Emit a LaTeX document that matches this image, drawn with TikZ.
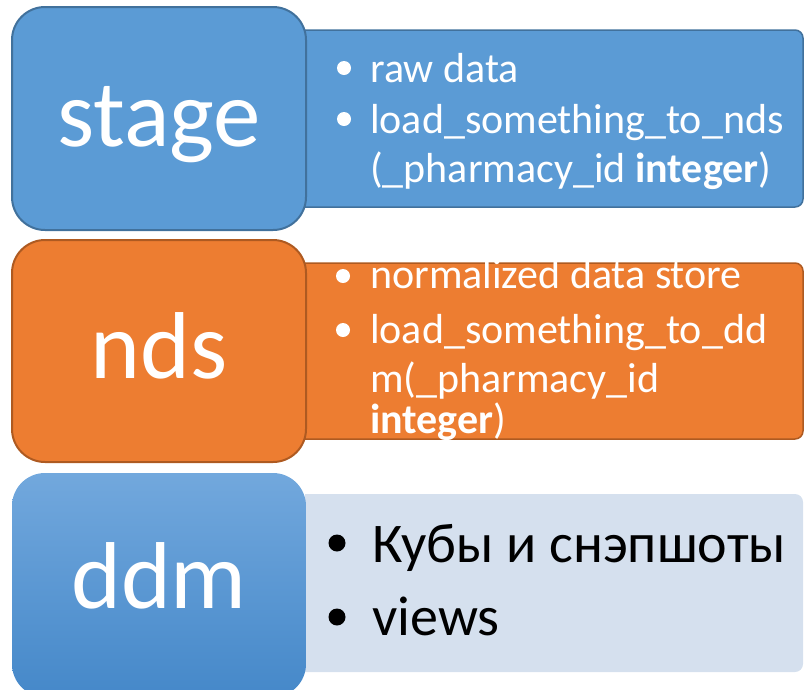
\documentclass[tikz,border=0pt]{standalone}
\usepackage{fontspec}
\setmainfont{Carlito}
\definecolor{stagefill}{HTML}{5B9BD5}
\definecolor{stageline}{HTML}{41719C}
\definecolor{ndsfill}{HTML}{ED7D31}
\definecolor{ndsline}{HTML}{AE5A21}
\definecolor{ddmtop}{HTML}{72A8DD}
\definecolor{ddmbot}{HTML}{4588C9}
\definecolor{lightpanel}{HTML}{D5E0EE}
\tikzset{
  bigbox/.style={rounded corners=33pt, line width=2pt},
  bigtext/.style={anchor=base, inner sep=0pt, text=white, font=\fontsize{95}{110}\selectfont},
  smalltext/.style={anchor=base west, inner sep=0pt, text=white, font=\fontsize{42}{50}\selectfont},
  ddmtext/.style={anchor=base west, inner sep=0pt, text=black, font=\fontsize{56}{66}\selectfont},
  wdot/.style={circle, fill=white, inner sep=0pt, minimum size=14pt},
  kdot/.style={circle, fill=black, inner sep=0pt, minimum size=17pt},
}
\begin{document}
\begin{tikzpicture}[x=1pt,y=-1pt]
\useasboundingbox (0,0) rectangle (806,689);
\clip (0,0) rectangle (806,689);
% panels
\draw[fill=stagefill, draw=stageline, line width=1.5pt]
  (305,30) -- (795,30) [rounded corners=8pt] -- (803,30) -- (803,207) [sharp corners] -- (795,207) -- (305,207) -- cycle;
\draw[fill=ndsfill, draw=ndsline, line width=1.5pt]
  (305,263) -- (795,263) [rounded corners=8pt] -- (803,263) -- (803,439) [sharp corners] -- (795,439) -- (305,439) -- cycle;
\fill[lightpanel]
  (305,494) -- (795,494) [rounded corners=8pt] -- (803,494) -- (803,672) [sharp corners] -- (795,672) -- (305,672) -- cycle;
% big boxes
\draw[bigbox, fill=stagefill, draw=stageline] (12,7) rectangle (306,230);
\draw[bigbox, fill=ndsfill, draw=ndsline] (12,240) rectangle (306,462);
\shade[rounded corners=33pt, top color=ddmtop, bottom color=ddmbot] (12,473) rectangle (306,697);
% big labels
\node[bigtext] (stage) at (159,146) {stage};
\node[bigtext] (nds) at (159,378) {nds};
\node[bigtext] (ddm) at (159,608) {ddm};
% stage panel text
\node[wdot] (sb1) at (344,68) {};
\node[smalltext] (st1) at (370,82) {raw data};
\node[wdot] (sb2) at (344,119) {};
\node[smalltext] (st2) at (370,133) {load\_something\_to\_nds};
\node[smalltext] (st3) at (370,182) {(\_pharmacy\_id \textbf{integer})};
% nds panel text
\node[wdot] (nb1) at (343,276) {};
\node[smalltext] (nt1) at (370,288) {normalized data store};
\node[wdot] (nb2) at (343,330) {};
\node[smalltext] (nt2) at (370,343) {load\_something\_to\_dd};
\node[smalltext] (nt3) at (370,392) {m(\_pharmacy\_id};
\node[smalltext] (nt4) at (370,433) {\textbf{integer})};
% ddm panel text
\node[kdot] (db1) at (337,543) {};
\node[ddmtext] (dt1) at (372,562) {Кубы и снэпшоты};
\node[kdot] (db2) at (337,617) {};
\node[ddmtext] (dt2) at (372,635) {views};
\end{tikzpicture}
\end{document}
